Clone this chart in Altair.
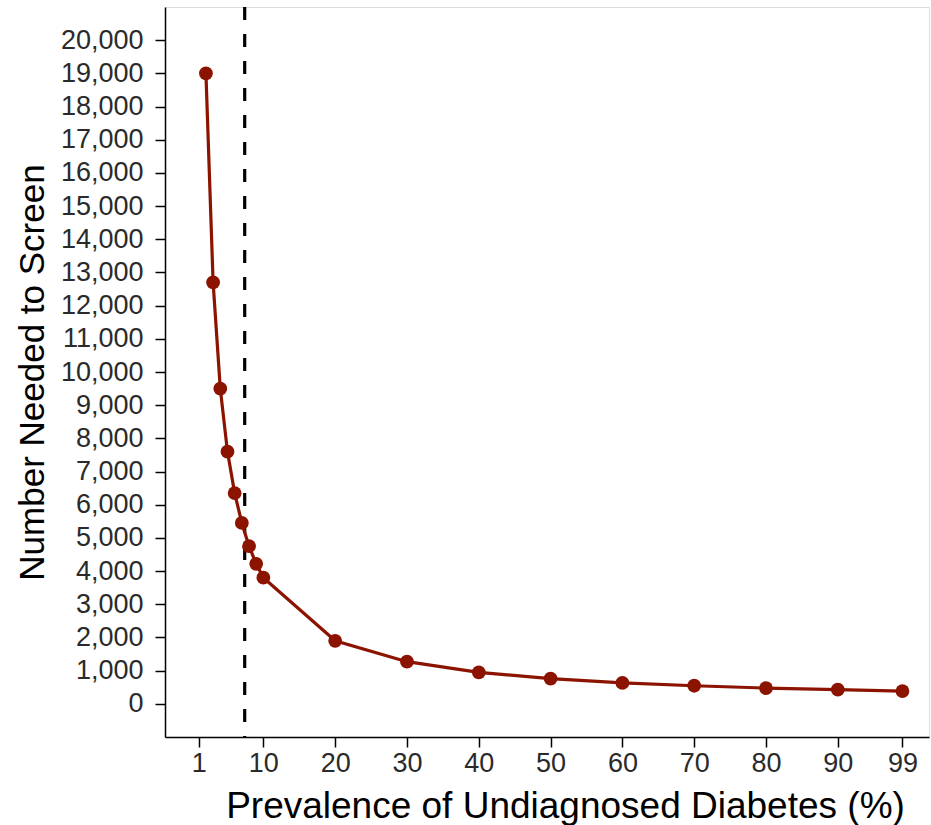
import altair as alt
import pandas as pd

prevalence = [2, 3, 4, 5, 6, 7, 8, 9, 10, 20, 30, 40, 50, 60, 70, 80, 90, 99]
nns = [19000, 12700, 9500, 7600, 6350, 5450, 4750, 4220, 3800, 1900, 1270, 950,
       760, 630, 545, 475, 425, 385]
x_ticks = [1, 10, 20, 30, 40, 50, 60, 70, 80, 90, 99]
y_ticks = list(range(0, 20001, 1000))
ref_line = [7.4]

df = pd.DataFrame({"p": prevalence, "nns": nns})
ref = pd.DataFrame({"x": ref_line})

FONT = "Liberation Sans"
RED = "#8B1300"
XS = alt.Scale(domain=[-3.7, 102.7], nice=False, zero=False)
YS = alt.Scale(domain=[-1000, 21000], nice=False, zero=False)

x_axis = alt.Axis(values=x_ticks, title="Prevalence of Undiagnosed Diabetes (%)",
                  labelExpr="format(datum.value, 'd')", labelPadding=3,
                  titleFontSize=37, titleX=400, titleY=80, titleAlign="center",
                  titleBaseline="alphabetic")
y_axis = alt.Axis(values=y_ticks, title="Number Needed to Screen",
                  labelExpr="format(datum.value, ',')", titlePadding=10, labelPadding=12,
                  titleFontSize=35)

x = alt.X("p:Q", scale=XS, axis=x_axis)
y = alt.Y("nns:Q", scale=YS, axis=y_axis)

line = alt.Chart(df).mark_line(color=RED, strokeWidth=3.2).encode(x=x, y=y)
pts = alt.Chart(df).mark_circle(color=RED, size=190, opacity=1).encode(x=x, y=y)
rule = alt.Chart(ref).mark_rule(color="black", strokeWidth=3.2, strokeDash=[13, 14]).encode(
    x=alt.X("x:Q", scale=XS, axis=x_axis),
    y=alt.value(0), y2=alt.value(730)
)

chart = alt.layer(rule, line, pts).properties(
    width=764, height=730,
    autosize=alt.AutoSizeParams(type="none"),
    padding={"left": 165, "top": 7, "right": 2, "bottom": 88},
).configure_view(stroke="black", strokeWidth=1.5).configure(background="white").configure_axis(
    grid=False, tickSize=10, tickColor="black", domainColor="black",
    labelFontSize=27, labelColor="#2a2a2a", labelFont=FONT,
    titleFont=FONT, titleFontWeight="normal", titleColor="black",
    domainWidth=1.5, tickWidth=1.5, labelOverlap=False,
)

chart.save("out.html", embed_options={"renderer": "svg", "actions": False})
